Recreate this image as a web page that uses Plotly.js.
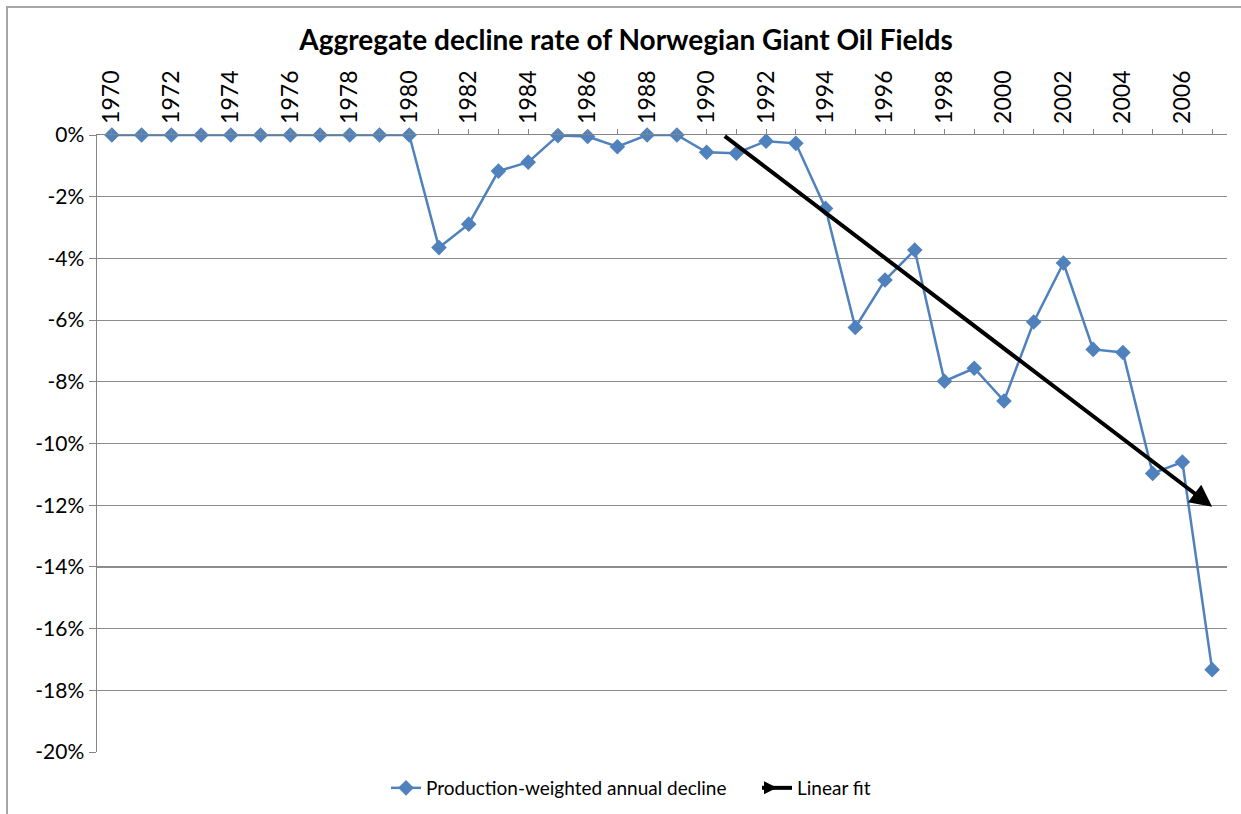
<!DOCTYPE html>
<html>
<head>
<meta charset="utf-8">
<script src="https://cdn.plot.ly/plotly-3.0.1.min.js"></script>
<style>html,body{margin:0;padding:0;background:#fff}#chart{width:1241px;height:814px}</style>
</head>
<body>
<div id="chart"></div>
<script>
// Data
const years = [1970,1971,1972,1973,1974,1975,1976,1977,1978,1979,1980,1981,1982,1983,1984,1985,1986,1987,1988,1989,1990,1991,1992,1993,1994,1995,1996,1997,1998,1999,2000,2001,2002,2003,2004,2005,2006,2007];
const declinePct = [0,0,0,0,0,0,0,0,0,0,0,-3.65,-2.89,-1.17,-0.88,-0.02,-0.05,-0.38,0,0,-0.56,-0.59,-0.2,-0.27,-2.38,-6.24,-4.70,-3.73,-7.98,-7.56,-8.62,-6.06,-4.15,-6.95,-7.05,-10.97,-10.60,-17.33];
const fitYears = [1990.56, 2007];
const fitPct = [0, -12.05];
const tickYears = [1970,1972,1974,1976,1978,1980,1982,1984,1986,1988,1990,1992,1994,1996,1998,2000,2002,2004,2006];
const yTicks = [0,-2,-4,-6,-8,-10,-12,-14,-16,-18,-20];
const yTickLabels = yTicks.map(v => v + '%');

const FONT = 'Lato, "Open Sans", sans-serif';
const BLUE = '#4F81BD';
const traces = [
  {
    x: years, y: declinePct, type: 'scatter', mode: 'lines+markers',
    name: 'Production-weighted annual decline',
    line: {color: BLUE, width: 2.5},
    marker: {symbol: 'diamond', size: 12, color: BLUE},
    cliponaxis: false
  },
  {
    // legend entry for the linear fit arrow (the arrow itself is an annotation)
    x: [null], y: [null], type: 'scatter', mode: 'lines+markers',
    name: 'Linear fit',
    line: {color: '#000000', width: 4},
    marker: {symbol: 'arrow-right', size: 13, color: '#000000', line: {width: 0}}
  }
];

const layout = {
  width: 1241, height: 814,
  paper_bgcolor: '#ffffff', plot_bgcolor: '#ffffff',
  margin: {l: 97, r: 14, t: 135, b: 62},
  font: {family: FONT, color: '#000000'},
  title: {
    text: '<b>Aggregate decline rate of Norwegian Giant Oil Fields</b>',
    font: {family: FONT, size: 28, color: '#000000'},
    x: 626/1241, xref: 'container', xanchor: 'center',
    y: 1 - 40/814, yref: 'container', yanchor: 'middle'
  },
  xaxis: {
    range: [1969.5, 2007.5], side: 'top',
    tickmode: 'array', tickvals: tickYears, ticktext: tickYears.map(String),
    tickangle: -90, tickfont: {size: 23, family: FONT, color: '#000'},
    ticks: 'outside', ticklen: 5, tickcolor: '#868686', tickwidth: 1,
    minor: {dtick: 1, tick0: 1970, ticks: 'outside', ticklen: 5, tickcolor: '#868686', showgrid: false},
    showgrid: false, zeroline: false,
    showline: true, linecolor: '#868686', linewidth: 1.5,
    anchor: 'y'
  },
  yaxis: {
    range: [-20, 0], tickmode: 'array', tickvals: yTicks, ticktext: yTickLabels,
    tickfont: {size: 21, family: FONT, color: '#000'},
    ticks: 'outside', ticklen: 7, tickcolor: '#868686',
    showgrid: true, gridcolor: '#8c8c8c', gridwidth: 1.2,
    zeroline: false, showline: true, linecolor: '#868686', linewidth: 1.5
  },
  annotations: [
    {
      xref: 'x', yref: 'y', axref: 'x', ayref: 'y',
      x: fitYears[1], y: fitPct[1], ax: fitYears[0], ay: fitPct[0],
      text: '', showarrow: true, arrowhead: 2, arrowsize: 1.1, arrowwidth: 4,
      arrowcolor: '#000000', standoff: 0, startstandoff: 0
    }
  ],
  showlegend: true,
  legend: {
    orientation: 'h', xref: 'container', yref: 'container',
    x: 386/1241, xanchor: 'left', y: 1 - 788/814, yanchor: 'middle',
    font: {size: 19, family: FONT, color: '#000'}, itemwidth: 30,
    entrywidth: 326, entrywidthmode: 'pixels', traceorder: 'normal'
  },
  shapes: [
    {type: 'rect', xref: 'paper', yref: 'paper',
     x0: (7-97)/1130, x1: (1260-97)/1130, y0: (752-830)/617, y1: 1 + (135-7)/617,
     line: {color: '#A6A6A6', width: 2}, fillcolor: 'rgba(0,0,0,0)', layer: 'below'}
  ]
};

Plotly.newPlot('chart', traces, layout, {displayModeBar: false, staticPlot: true});
</script>
</body>
</html>
